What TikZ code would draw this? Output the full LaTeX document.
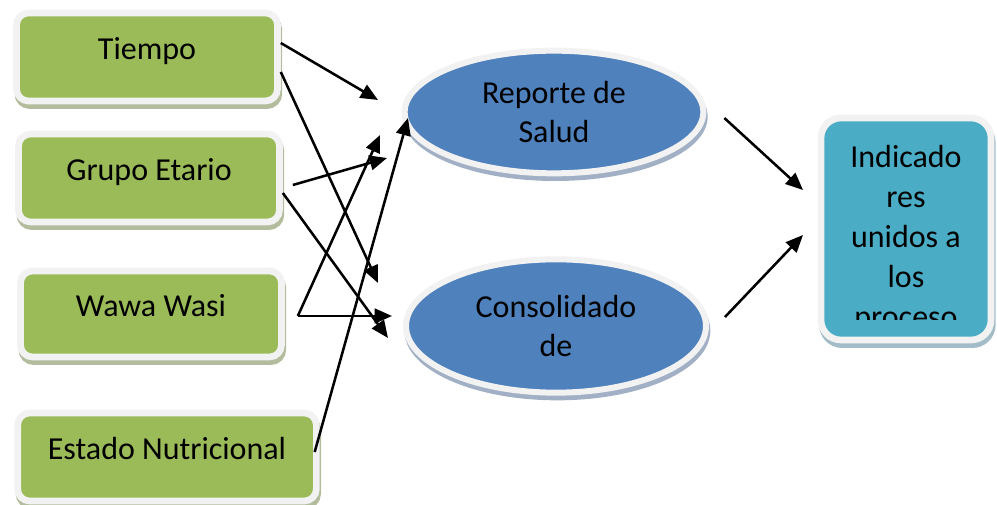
\documentclass[tikz,border=0pt]{standalone}
\usepackage{fontspec}
\setmainfont{Carlito}
\usetikzlibrary{arrows.meta,shapes.geometric,shadows,calc}
\definecolor{officegreen}{HTML}{9BBB59}
\definecolor{officeblue}{HTML}{4F81BD}
\definecolor{officeteal}{HTML}{4BACC6}
\definecolor{framegrey}{HTML}{F2F2F2}
\definecolor{greenshade}{HTML}{B3BD9E}
\definecolor{blueshade}{HTML}{A2B0C6}
\definecolor{tealshade}{HTML}{A3BDC8}

\begin{document}
\begin{tikzpicture}[x=0.75pt,y=-0.75pt,
    every node/.style={font=\fontsize{24}{29}\selectfont},
    factor/.style={rectangle,rounded corners=9pt,fill=officegreen,draw=framegrey,line width=5pt,
        minimum width=195.75pt,minimum height=66pt,text height=0.7em,text depth=0.27em,
        drop shadow={shadow xshift=1pt,shadow yshift=-3.5pt,fill=greenshade,draw=greenshade,line width=5pt,opacity=1}},
    process/.style={ellipse,fill=officeblue,draw=framegrey,line width=4.5pt,align=center,
        drop shadow={shadow xshift=1pt,shadow yshift=-3.5pt,fill=blueshade,draw=blueshade,line width=4.5pt,opacity=1}},
    result/.style={rectangle,rounded corners=15pt,fill=officeteal,draw=framegrey,line width=5pt,
        drop shadow={shadow xshift=1pt,shadow yshift=-3.5pt,fill=tealshade,draw=tealshade,line width=5pt,opacity=1}},
    conn/.style={line width=1.9pt,-{Triangle[length=13pt,width=11pt]}}]
    \useasboundingbox (0,0) rectangle (997,505);

    \node[factor] (tiempo) at (147,57) {Tiempo};
    \node[factor] (grupo) at (149,178) {Grupo Etario};
    \node[factor,minimum height=64.5pt] (wawa) at (151,314) {Wawa Wasi};
    \node[factor,minimum width=224pt] (estado) at (167,457) {Estado Nutricional};

    \node[process,minimum width=224pt,minimum height=92pt] (reporte) at (554,112) {Reporte de\\Salud};
    \node[process,minimum width=225pt,minimum height=100pt] (consol) at (556,326) {Consolidado\\de};

    \node[result,minimum width=127.5pt,minimum height=166.5pt] (ind) at (906,229) {};
    \begin{scope}
        \clip (825,122) rectangle (988,320);
        \node[align=center,inner sep=0pt,anchor=north,font=\fontsize{24}{30}\selectfont] (indtxt) at (906,145) {Indicado\\res\\unidos a\\los\\proceso};
    \end{scope}

    \coordinate (rin1) at (378,100);
    \coordinate (cin1) at (378,283);
    \coordinate (rin2) at (387,158);
    \coordinate (cin2) at (388,338);
    \coordinate (rin3) at (380,135);
    \coordinate (cin3) at (392,316);
    \coordinate (rin4) at (408,118);
    \coordinate (iin1) at (803,190);
    \coordinate (iin2) at (803,235);

    \draw[conn] ($(tiempo.east)+(0,-14)$) -- (rin1);
    \draw[conn] ($(tiempo.east)+(0,15)$) -- (cin1);
    \draw[conn] ($(grupo.east)+(10,7)$) -- (rin2);
    \draw[conn] ($(grupo.east)+(0,15)$) -- (cin2);
    \draw[conn] ($(wawa.east)+(13,2)$) -- (rin3);
    \draw[conn] ($(wawa.east)+(13,2)$) -- (cin3);
    \draw[conn] ($(estado.east)+(-5,-5)$) -- (rin4);
    \draw[conn] ($(reporte.east)+(18,6)$) -- (iin1);
    \draw[conn] ($(consol.east)+(16,-9)$) -- (iin2);
\end{tikzpicture}
\end{document}
